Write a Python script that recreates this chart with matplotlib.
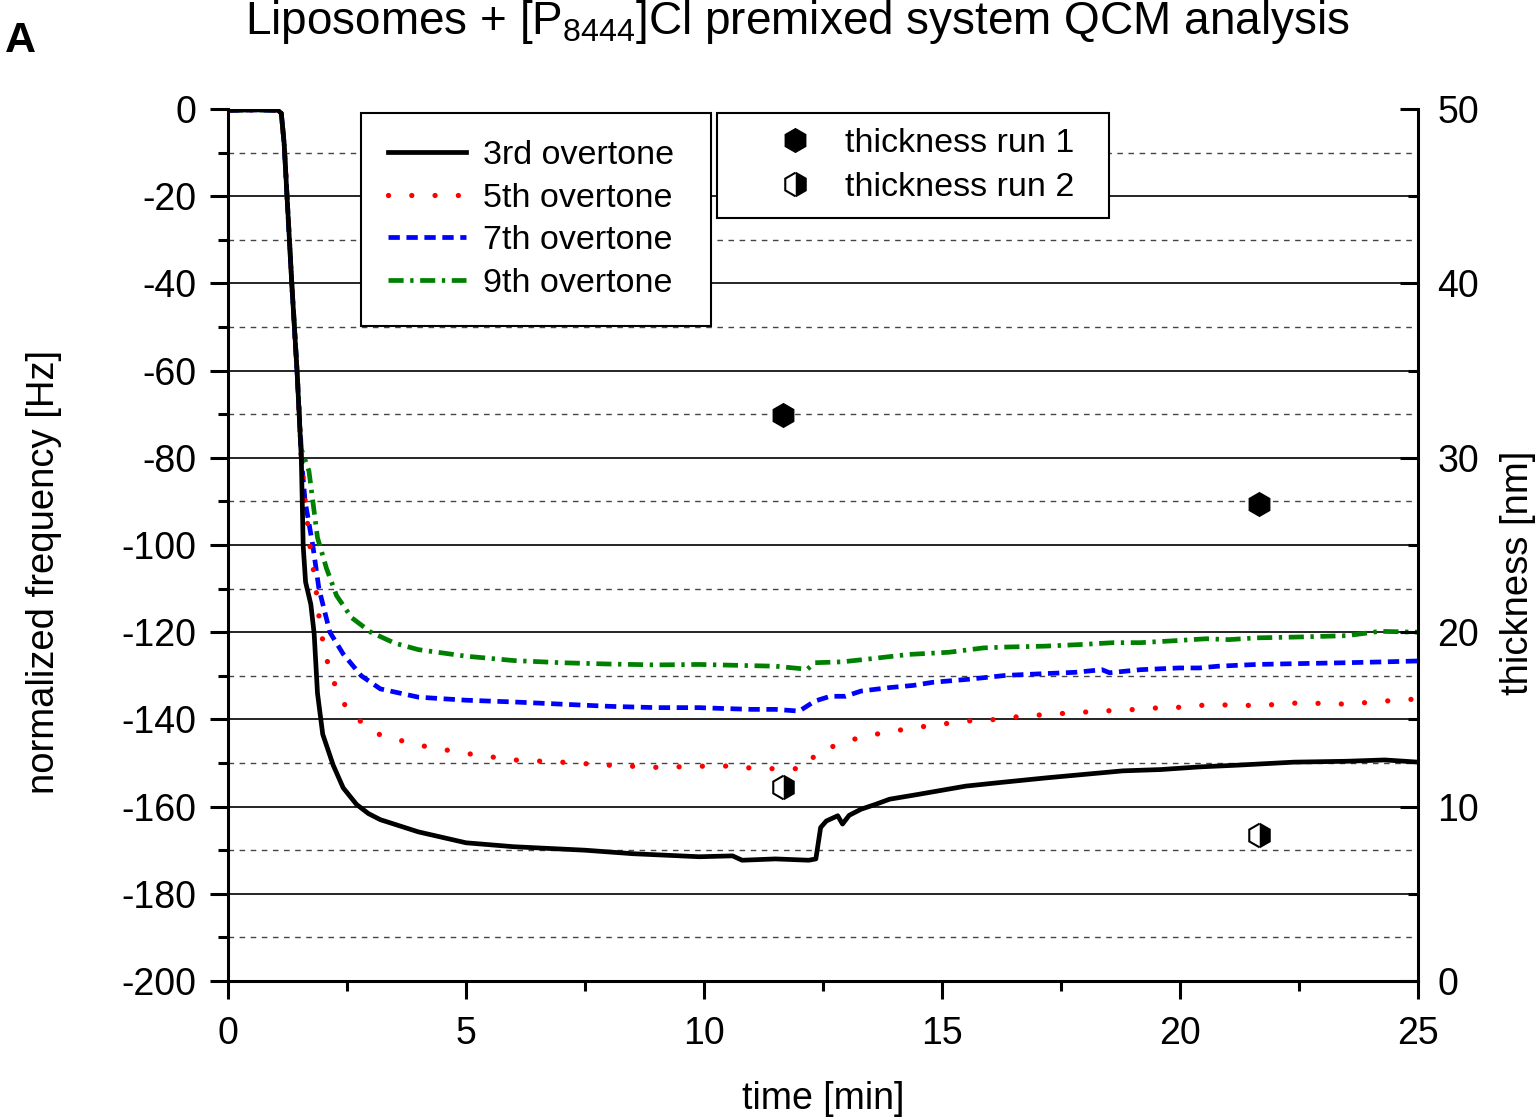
import matplotlib
matplotlib.use("Agg")
import matplotlib.pyplot as plt
from matplotlib.ticker import MultipleLocator

plt.rcParams['font.family'] = ['Liberation Sans', 'DejaVu Sans']
plt.rcParams['mathtext.fontset'] = 'custom'
plt.rcParams['mathtext.rm'] = 'Liberation Sans'
plt.rcParams['mathtext.it'] = 'Liberation Sans'
plt.rcParams['axes.unicode_minus'] = False

# 3rd overtone
t3 = [0, 0.6, 1.05, 1.12, 1.18, 1.24, 1.34, 1.45, 1.54, 1.58, 1.63, 1.74, 1.81, 1.88, 1.99,
      2.21, 2.42, 2.7, 2.95, 3.2, 4, 5, 6, 7.5, 8.5, 9.9, 10.6, 10.8, 11.5, 12.2, 12.35, 12.45,
      12.57, 12.81, 12.91, 13.05, 13.3, 13.6, 13.9, 14.5, 15.5, 16.2, 17.2, 18.0, 18.8,
      19.6, 20.4, 21.2, 22.4, 23.5, 24.3, 25]
f3 = [-0.3, -0.2, -0.3, -1, -8, -20, -40, -60, -80, -100.3, -108.5, -113.6, -120.3, -134,
      -143.4, -150.5, -155.7, -159.5, -161.6, -163, -165.8, -168.3, -169.2, -170, -170.8,
      -171.5, -171.3, -172.3, -172, -172.3, -172, -164.8, -163.3, -162.1, -164, -162, -160.6,
      -159.5, -158.3, -157.2, -155.3, -154.5, -153.4, -152.6, -151.8, -151.5, -150.9,
      -150.5, -149.8, -149.6, -149.3, -149.8]

# 5th overtone
t5 = [0, 0.6, 1.05, 1.12, 1.18, 1.24, 1.34, 1.45, 1.54, 1.62, 1.72, 1.85, 1.88, 1.96, 2.03,
      2.17, 2.35, 2.57, 3.2, 4, 5, 6, 7, 8, 9, 10.1, 10.6, 11.1, 11.6, 12.1, 12.4, 12.85,
      13.25, 13.8, 14.2, 14.7, 15.2, 15.7, 16.2, 16.7, 17.2, 17.7, 18.2, 18.7, 19.1, 19.6,
      20.1, 20.6, 21.0, 21.5, 22.0, 22.5, 23.5, 24.3, 25]
f5 = [-0.3, -0.2, -0.3, -1, -8, -20, -40, -60, -80, -90, -100, -110, -114, -120, -124.4,
      -130, -134.7, -138.8, -143.6, -145.9, -147.8, -149.3, -149.8, -150.5, -151, -150.7,
      -150.7, -151.3, -151.3, -151.3, -147.3, -145.7, -144.2, -143, -142.3, -141.5, -140.8,
      -140.2, -140, -139.2, -138.9, -138.5, -138.2, -137.9, -137.7, -137.3, -137.2, -136.6,
      -136.7, -136.8, -136.6, -136.2, -136.5, -135.8, -135.3]

# 7th overtone
t7 = [0, 0.6, 1.05, 1.12, 1.18, 1.24, 1.34, 1.45, 1.54, 1.62, 1.78, 1.91, 2.14, 2.42, 2.8,
      3.2, 4, 5, 6, 7, 8, 9, 9.9, 10.4, 11.0, 11.5, 12.0, 12.33, 12.65, 12.97, 13.3, 13.9,
      14.4, 14.8, 15.55, 16.35, 17.16, 17.8, 18.36, 18.52, 19.17, 19.97, 20.4, 20.8, 21.6,
      22.5, 23.5, 24.3, 25]
f7 = [-0.3, -0.2, -0.3, -1, -8, -20, -40, -60, -80, -90, -100, -110, -120, -125, -130, -133,
      -134.9, -135.6, -136, -136.5, -137, -137.3, -137.3, -137.5, -137.7, -137.7, -138.1,
      -135.8, -134.7, -134.7, -133.5, -132.7, -132.2, -131.5, -130.8, -129.9, -129.5,
      -129.2, -128.6, -129.3, -128.6, -128.2, -128.2, -127.8, -127.4, -127.2, -127.0,
      -126.8, -126.6]

# 9th overtone
t9 = [0, 0.6, 1.05, 1.12, 1.18, 1.24, 1.34, 1.45, 1.54, 1.7, 1.88, 2.07, 2.28, 2.6, 3.0,
      3.5, 4, 5, 6, 7, 8, 9, 9.9, 10.7, 11.5, 12.17, 12.33, 12.9, 13.5, 14.3, 15.15, 15.87,
      16.35, 17.16, 17.97, 18.6, 19.17, 19.97, 20.55, 21.03, 21.6, 22.5, 23.5, 24.2, 25]
f9 = [-0.3, -0.2, -0.3, -1, -8, -20, -40, -60, -78, -83, -98.3, -105.4, -111.6, -116.7,
      -120, -122.5, -124, -125.5, -126.5, -127, -127.3, -127.5, -127.4, -127.6, -127.8,
      -128.5, -127, -126.8, -126.1, -125.1, -124.6, -123.6, -123.4, -123.2, -122.8, -122.4,
      -122.4, -121.9, -121.5, -121.7, -121.3, -121.1, -120.8, -119.8, -120]

# thickness
t_thick = [11.66, 21.66]
thick_run1 = [32.45, 27.35]
thick_run2 = [11.1, 8.4]

fig = plt.figure(figsize=(15.37, 11.2), dpi=100)
ax = fig.add_axes([228 / 1537, 139 / 1120, 1190 / 1537, 872 / 1120])

# grid
for y in range(-180, 0, 20):
    ax.axhline(y, color='black', lw=1.2, zorder=0)
for y in range(-190, 0, 20):
    ax.axhline(y, color='#444444', lw=1.0, ls=(0, (4, 4)), zorder=0)

lw = 3.4
l3, = ax.plot(t3, f3, color='black', lw=lw, label='3rd overtone ', zorder=5)
l5, = ax.plot(t5, f5, color='red', lw=3.8, ls=(0, (0.01, 4.4)), dash_capstyle='round',
              label='5th overtone ', zorder=4)
l7, = ax.plot(t7, f7, color='blue', lw=lw, ls=(0, (2.4, 1.4)), label='7th overtone ', zorder=3)
l9, = ax.plot(t9, f9, color='green', lw=lw, ls=(0, (3.2, 1.4, 0.7, 1.4)),
              label='9th overtone ', zorder=2)

ax.set_xlim(0, 25)
ax.set_ylim(-200, 0)
ax.xaxis.set_major_locator(MultipleLocator(5))
ax.xaxis.set_minor_locator(MultipleLocator(2.5))
ax.yaxis.set_major_locator(MultipleLocator(20))
ax.yaxis.set_minor_locator(MultipleLocator(10))
ax.tick_params(which='major', direction='out', length=13, width=2.2, labelsize=27)
ax.tick_params(which='minor', direction='out', length=7, width=2.2)
ax.tick_params(axis='y', right=False, pad=10)
ax.tick_params(axis='x', pad=12)
ax.spines['top'].set_visible(False)
ax.spines['right'].set_visible(False)
for s in ['left', 'bottom']:
    ax.spines[s].set_linewidth(2.2)
ax.set_xlabel('time [min]', fontsize=27, labelpad=21)
ax.set_ylabel('normalized frequency [Hz]', fontsize=27.5)
ax.yaxis.set_label_coords((62 - 228) / 1190, (981 - 572) / 872)

ax2 = ax.twinx()
ax2.set_ylim(0, 50)
ax2.yaxis.set_major_locator(MultipleLocator(10))
ax2.yaxis.set_minor_locator(MultipleLocator(5))
ax2.tick_params(which='major', direction='in', length=13, width=2.2, labelsize=27, pad=14)
ax2.tick_params(which='minor', direction='in', length=7, width=2.2)
for s in ['top', 'left', 'bottom']:
    ax2.spines[s].set_visible(False)
ax2.spines['right'].set_linewidth(2.2)
ax2.set_ylabel('thickness [nm]', fontsize=27.5)
ax2.yaxis.set_label_coords((1500 - 228) / 1190, (981 - 573) / 872)

m1, = ax2.plot(t_thick, thick_run1, ls='none', marker='h', markersize=17, color='black',
               label='thickness run 1  ', clip_on=False)
m2, = ax2.plot(t_thick, thick_run2, ls='none', marker='h', markersize=17, color='black',
               fillstyle='right', markerfacecoloralt='white', markeredgewidth=1.5,
               label='thickness run 2  ', clip_on=False)

leg1 = ax2.legend(handles=[l3, l5, l7, l9], loc='upper left',
                  bbox_to_anchor=(361 / 1537, 1 - 113 / 1120), bbox_transform=fig.transFigure,
                  fontsize=24.5, fancybox=False, framealpha=1, edgecolor='black',
                  handlelength=2.3, handletextpad=0.48, labelspacing=0.34, borderpad=0.8,
                  borderaxespad=0)
leg1.get_frame().set_linewidth(1.5)
ax2.add_artist(leg1)
leg2 = ax2.legend(handles=[m1, m2], loc='upper left',
                  bbox_to_anchor=(717 / 1537, 1 - 113 / 1120), bbox_transform=fig.transFigure,
                  fontsize=24.5, fancybox=False, framealpha=1, edgecolor='black',
                  handlelength=3.69, handletextpad=-0.37, labelspacing=0.36, borderpad=0.45,
                  borderaxespad=0)
leg2.get_frame().set_linewidth(1.5)

fig.text(797 / 1537, 1 - 22 / 1120, 'Liposomes + [P$_{8444}$]Cl premixed system QCM analysis',
         ha='center', va='center', fontsize=33)
fig.text(5 / 1537, 1 - 41 / 1120, 'A', ha='left', va='center', fontsize=31, fontweight='bold')

fig.savefig('out.png', dpi=100)
